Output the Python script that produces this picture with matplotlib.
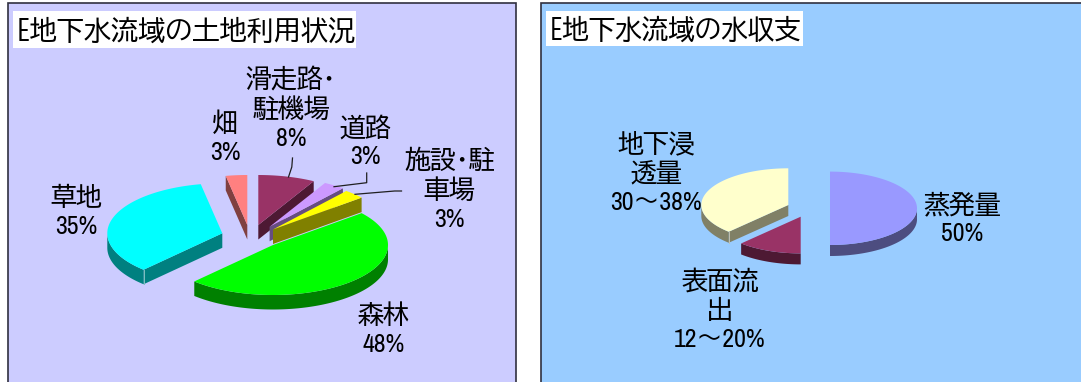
import numpy as np
import matplotlib
matplotlib.use("Agg")
import matplotlib.pyplot as plt
from matplotlib.colors import to_rgb
from matplotlib.patches import Polygon, Rectangle

# Land use of the E groundwater basin, clockwise from 12 o'clock
land_names = ["滑走路･\n駐機場", "道路", "施設･駐\n車場", "森林", "草地", "畑"]
land_values = [8, 3, 3, 48, 35, 3]
land_text = ["8%", "3%", "3%", "48%", "35%", "3%"]

# Water balance of the same basin; the two ranges are drawn at the ends that close the circle
water_names = ["蒸発量", "表面流\n出", "地下浸\n透量"]
water_values = [50, 12, 38]
water_text = ["50%", "12～20%", "30～38%"]

# Styling
land_top = ["#993366", "#CC99FF", "#FFFF00", "#00FF00", "#00FFFF", "#FF8080"]
land_side = ["#4D1933", "#664D80", "#808000", "#008000", "#008080", "#804040"]
water_top = ["#9999FF", "#993366", "#FFFFCC"]
water_side = ["#4D4D80", "#4D1933", "#808066"]
land_dx = [11.3, 22.6, 26, 26, -24.7, 0.3]
land_dy = [-11, -9.2, -6.5, 9, -2.7, -11]
water_dx = [20, -9.3, -21.7]
water_dy = [0, 8.4, -3.3]

FONT = ["Archivo Narrow", "BIZ UDPGothic", "Noto Sans CJK JP"]
TITLE_FONT = ["BIZ UDGothic", "Noto Sans CJK JP"]

fig = plt.figure(figsize=(10.81, 3.82), dpi=100, facecolor="white")
ax = fig.add_axes([0, 0, 1, 1])
ax.set_xlim(0, 1081)
ax.set_ylim(382, 0)
ax.axis("off")


def exploded_pie(values, top, side, dx, dy, cx, cy, a, b, depth):
    """Extruded elliptical pie, with screen y pointing down."""
    edges = 360 * np.cumsum([0] + list(values)) / sum(values)
    for i, v in enumerate(values):
        start, end = np.radians(edges[i]), np.radians(edges[i + 1])
        ox, oy = cx + dx[i], cy + dy[i]
        th = np.linspace(start, end, 120)
        rx, ry = ox + a * np.sin(th), oy - b * np.cos(th)
        z = 3 + i * 0.1
        # radial wall that turns toward the viewer
        for ang, visible in ((start, np.sin(start) < -1e-6), (end, np.sin(end) > 1e-6)):
            if visible:
                px, py = ox + a * np.sin(ang), oy - b * np.cos(ang)
                ax.add_patch(Polygon([(ox, oy), (px, py), (px, py + depth), (ox, oy + depth)],
                                     closed=True, fc=side[i], ec="none", zorder=z))
        # outer rim wall on the near half of the ellipse
        low = max(start, np.pi / 2)
        high = min(end, 3 * np.pi / 2)
        if high > low:
            t = np.linspace(low, high, 120)
            wx, wy = ox + a * np.sin(t), oy - b * np.cos(t)
            pts = np.r_[np.c_[wx, wy], np.c_[wx, wy + depth][::-1]]
            ax.add_patch(Polygon(pts, closed=True, fc=side[i], ec="none", zorder=z))
        # pale highlight where a radial wall meets the rim wall
        if np.sin(start) < -1e-6 and start < 3 * np.pi / 2 and start > np.pi / 2:
            px, py = ox + a * np.sin(start), oy - b * np.cos(start)
            shade = tuple(0.5 * c + 0.5 for c in to_rgb(side[i]))
            ax.plot([px, px], [py, py + depth], color=shade, lw=0.7, zorder=z + 0.02)
        ax.add_patch(Polygon(np.r_[[[ox, oy]], np.c_[rx, ry]], closed=True,
                             fc=top[i], ec="none", zorder=z + 0.05))


def label(x, y, name, pct):
    ax.text(x, y, f"{name}\n{pct}", ha="center", va="center", ma="center",
            fontsize=18.6, family=FONT, color="black", linespacing=1.26, zorder=6)


# Panels, left open at the lower edge of the figure
ax.add_patch(Rectangle((8, 3), 507.5, 400, fc="#CCCCFF", ec="#303040", lw=1.2, zorder=1))
ax.add_patch(Rectangle((540.5, 3), 600, 400, fc="#99CCFF", ec="#303040", lw=1.2, zorder=1))

# Title boxes
ax.add_patch(Rectangle((13, 11), 343, 37, fc="white", ec="none", zorder=2))
ax.add_patch(Rectangle((546, 11), 257, 35, fc="white", ec="none", zorder=2))
ax.text(17, 29.5, "E地下水流域の土地利用状況", fontsize=19.5, family=TITLE_FONT, va="center", zorder=3)
ax.text(550, 28.5, "E地下水流域の水収支", fontsize=19.1, family=TITLE_FONT, va="center", zorder=3)

exploded_pie(land_values, land_top, land_side, land_dx, land_dy, 247, 236, 115, 50, 14.5)
exploded_pie(water_values, water_top, water_side, water_dx, water_dy, 810, 208.3, 87, 36.7, 11)

# Leader lines for the narrow slices
for xs, ys in (([288.5, 291.8, 292.5], [177, 167, 158]),
               ([334, 366.7, 366.7], [186.7, 182.7, 173]),
               ([355, 394.7, 401.5], [194.3, 191, 191])):
    ax.plot(xs, ys, color="#202020", lw=0.9, zorder=5)

land_pos = [(291, 108), (365.7, 142), (449.7, 190), (383.6, 330), (76, 212), (225, 138)]
for (x, y), n, t in zip(land_pos, land_names, land_text):
    label(x, y, n, t)
water_pos = [(962.5, 219), (720, 310), (656, 173)]
for (x, y), n, t in zip(water_pos, water_names, water_text):
    label(x, y, n, t)

fig.savefig("out.png", dpi=100)
